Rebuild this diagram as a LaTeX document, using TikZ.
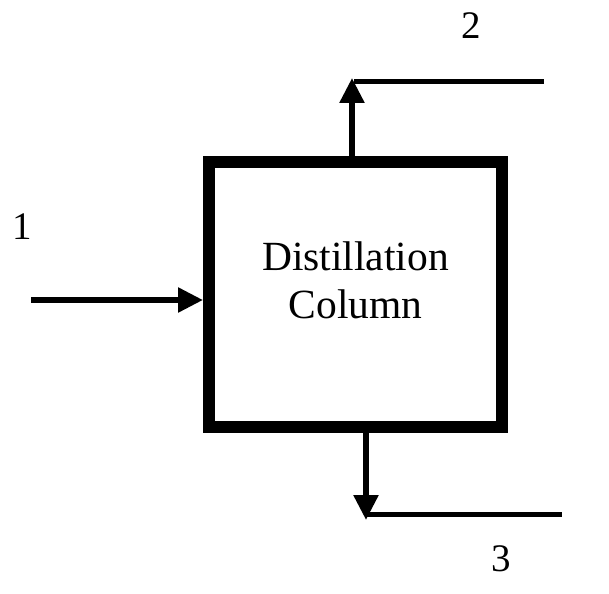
\documentclass[tikz,border=0pt]{standalone}
\usepackage{fontspec}
\setmainfont{Liberation Serif}
\usetikzlibrary{arrows.meta}
\begin{document}
\begin{tikzpicture}[x=1pt,y=-1pt,
  unit/.style={draw,line width=12pt,minimum width=293pt,minimum height=265pt,inner sep=0pt},
  flow/.style={line width=5.5pt,-{Triangle[length=25pt,width=24pt]}},
  stream/.style={line width=5.5pt},
  lbl/.style={font=\fontsize{39}{46}\selectfont,anchor=base,inner sep=0pt},
  ttl/.style={font=\fontsize{41.5}{48}\selectfont,align=center,inner sep=0pt}]
\useasboundingbox (0,0) rectangle (609,593);
\node[unit] (col) at (355.5,294.5) {};
\node[ttl] (title) at (355.5,280) {Distillation\\Column};
% feed
\coordinate (f1) at (31,300);
\draw[flow] (f1) -- (f1 -| col.west);
\node[lbl] (n1) at (22,240) {1};
% top product
\coordinate (t2) at (352,78);
\draw[flow] (col.north -| t2) -- (t2);
\coordinate (t2a) at (354,81.5);
\coordinate (t2b) at (544,81.5);
\draw[stream] (t2a) -- (t2b);
\node[lbl] (n2) at (471.5,39) {2};
% bottom product
\coordinate (t3) at (366,520);
\draw[flow] (col.south -| t3) -- (t3);
\coordinate (t3a) at (367,514.5);
\coordinate (t3b) at (562,514.5);
\draw[stream] (t3a) -- (t3b);
\node[lbl] (n3) at (501.5,571.5) {3};
\end{tikzpicture}
\end{document}
